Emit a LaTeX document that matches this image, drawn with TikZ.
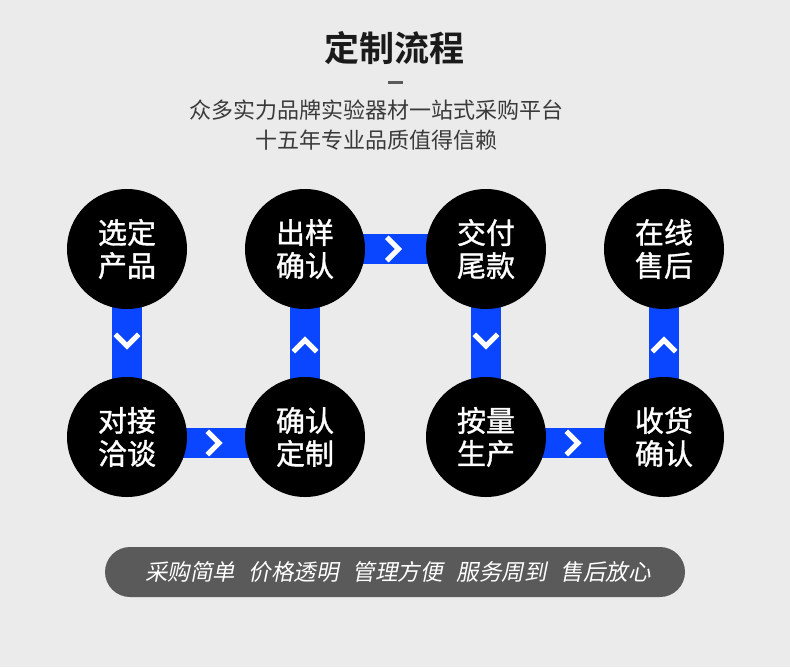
\documentclass[tikz,border=0pt]{standalone}
\usepackage{fontspec}
\newfontfamily\cjk{Noto Sans CJK SC}[BoldFont={Noto Sans CJK SC Bold}]
\newfontfamily\cjkmed{Noto Sans CJK SC}[FakeBold=1.2]
\newfontfamily\cjkslant{Noto Sans CJK SC}[FakeSlant=0.2]
\usetikzlibrary{decorations.markings}
\definecolor{pagegray}{HTML}{EBEBEB}
\definecolor{flowblue}{HTML}{0A46FF}
\definecolor{bargray}{HTML}{5A5A5A}
\definecolor{titleblack}{HTML}{1A1A1A}
\definecolor{subgray}{HTML}{3A3A3A}
\pgfdeclarelayer{back}
\pgfdeclarelayer{links}
\pgfsetlayers{back,links,main}

\begin{document}
\begin{tikzpicture}[x=1pt, y=-1pt,
    stepnode/.style={circle, fill=black, minimum size=120pt, inner sep=0pt,
      text=white, align=center, font=\cjkmed\fontsize{29}{33}\selectfont},
    link/.style={draw=flowblue, line width=30pt, shorten <=-8pt, shorten >=-8pt,
      postaction={decorate, decoration={markings, mark=at position 0.5 with
        {\draw[white, line width=5pt, miter limit=10] (-3,-6) -- (3,0) -- (-3,6);}}}}]
  \useasboundingbox (0,0) rectangle (790,667);
  \begin{pgfonlayer}{back}
    \fill[pagegray] (0,0) rectangle (790,667);
  \end{pgfonlayer}

  % Title and subtitle
  \node[font=\cjk\bfseries\fontsize{35}{40}\selectfont, text=titleblack] (title) at (394,48) {定制流程};
  \node[fill=bargray, minimum width=15pt, minimum height=3pt, inner sep=0pt] (dash) at (395.5,82) {};
  \node[align=center, font=\cjk\fontsize{22}{30}\selectfont, text=subgray] (sub) at (376,125)
    {众多实力品牌实验器材一站式采购平台\\十五年专业品质值得信赖};

  % Define steps
  \foreach \name/\x/\y/\txt in {c1/127/249/{选定\\产品}, c2/305/249/{出样\\确认},
      c3/486/249/{交付\\尾款}, c4/664/249/{在线\\售后}, c5/127/437/{对接\\洽谈},
      c6/305/437/{确认\\定制}, c7/486/437/{按量\\生产}, c8/664/437/{收货\\确认}} {
    \node[stepnode] (\name) at (\x,\y) {\txt};
  }

  % Draw links
  \begin{pgfonlayer}{links}
    \draw[link] (c1) -- (c5);
    \draw[link] ([yshift=-6pt]c5.east) -- ([yshift=-6pt]c6.west);
    \draw[link] (c6) -- (c2);
    \draw[link] (c2) -- (c3);
    \draw[link] (c3) -- (c7);
    \draw[link] ([yshift=-6pt]c7.east) -- ([yshift=-6pt]c8.west);
    \draw[link] (c8) -- (c4);
  \end{pgfonlayer}

  % Slogan bar
  \node[fill=bargray, rounded corners=25pt, minimum width=580pt, minimum height=50pt,
    text=white, font=\cjkslant\fontsize{22.5}{26}\selectfont] (slogan) at (395,572)
    {\hspace{6pt}采购简单\hspace{14pt}价格透明\hspace{14pt}管理方便\hspace{14pt}服务周到\hspace{14pt}售后放心};
\end{tikzpicture}
\end{document}
